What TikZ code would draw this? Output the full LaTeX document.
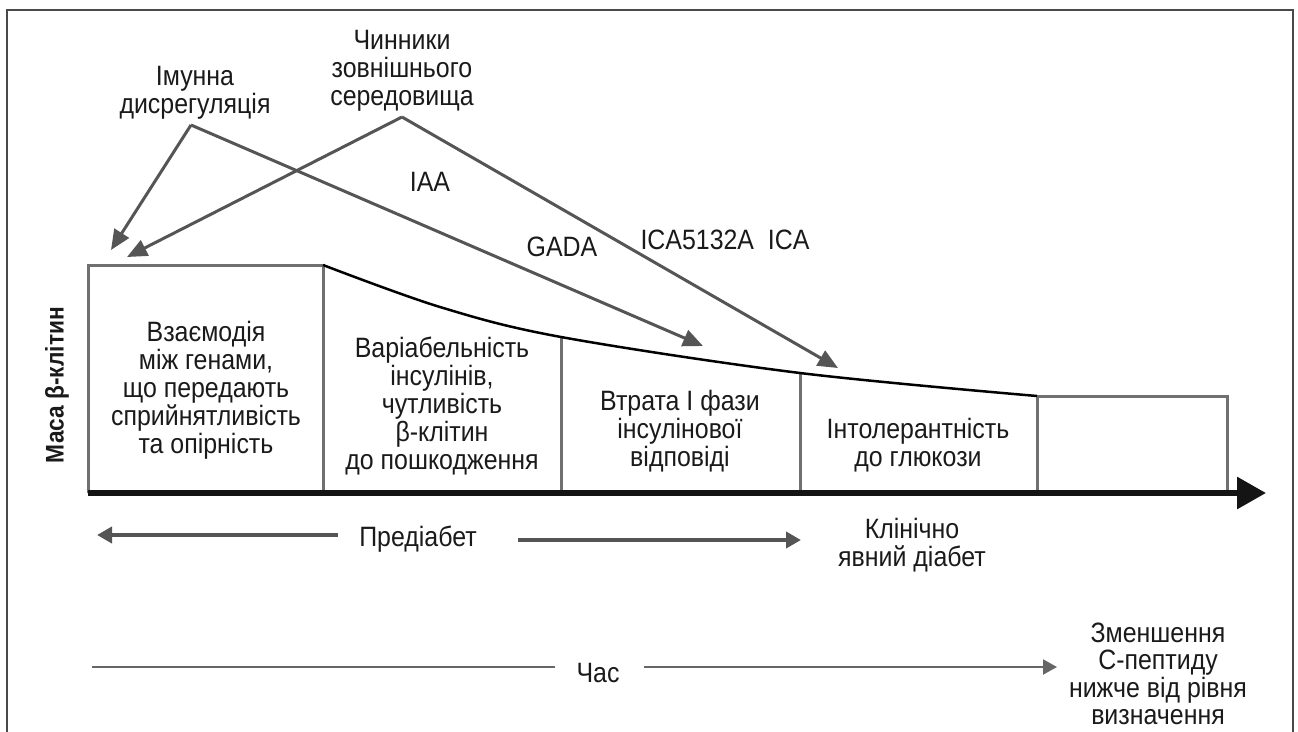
\documentclass[tikz,border=0pt]{standalone}
\usepackage{fontspec}
\setmainfont[FakeStretch=0.89]{Liberation Sans}
\usetikzlibrary{arrows.meta}
\definecolor{boxgray}{HTML}{707070}
\definecolor{arrgray}{HTML}{555555}
\definecolor{txt}{HTML}{1A1A1A}
\definecolor{framegray}{HTML}{4A4A4A}
\begin{document}
\begin{tikzpicture}[x=1pt,y=-1pt,
  lbl/.style={inner sep=0pt, align=center, text=txt, font=\fontsize{28}{28}\selectfont},
  ylbl/.style={inner sep=0pt, text=txt, font=\fontsize{25.5}{27}\selectfont\bfseries, rotate=90},
  boxline/.style={draw=boxgray, line width=3pt},
  infl/.style={draw=arrgray, line width=3pt, -{Triangle[length=20pt,width=17pt]}},
  pbar/.style={draw=arrgray, line width=4pt, -{Triangle[length=15pt,width=16pt]}},
  tbar/.style={draw=arrgray!90, line width=2pt, -{Triangle[length=14pt,width=15pt]}},
  curveline/.style={draw=black, line width=2.5pt},
  axisline/.style={draw=black!92, line width=6pt, -{Triangle[length=29pt,width=31pt]}},
  framel/.style={draw=framegray, line width=2pt}
]
\useasboundingbox (0,0) rectangle (1298,731);
% frame
\draw[framel] (7,745) -- (7,10) -- (1293,10) -- (1293,745);

% top labels
\node[lbl] (chin) at (402,71) {Чинники\\зовнішнього\\середовища};
\node[lbl] (imun) at (195,93) {Імунна\\дисрегуляція};
\coordinate (chA) at (402,117);
\coordinate (imA) at (191,125);

% boxes
\coordinate (c0) at (323,265);
\coordinate (c1) at (561,337);
\coordinate (c2) at (800,373);
\coordinate (c3) at (1037,396);
\draw[boxline] (88,493) -- (88,265) -- (c0) -- (323,493);
\draw[boxline] (c1) -- (561,493);
\draw[boxline] (c2) -- (800,493);
\draw[boxline] (1037,493) -- (c3) -- (1227,396) -- (1227,493);
\draw[curveline] plot[smooth, tension=0.55] coordinates {(323,265) (440,307) (561,337) (800,373) (1037,396)};

% axis
\coordinate (ax0) at (88,493);
\coordinate (ax1) at (1266,493);
\draw[axisline] (ax0) -- (ax1);

% influence arrows
\coordinate (t1) at (111,250);
\coordinate (t2) at (127,257);
\coordinate (t3) at (703,346);
\coordinate (t4) at (838,368);
\draw[infl] (imA) -- (t1);
\draw[infl] (imA) -- (t3);
\draw[infl] (chA) -- (t2);
\draw[infl] (chA) -- (t4);

% antibody labels
\node[lbl] (iaa) at (430,182) {IAA};
\node[lbl] (gada) at (562,247) {GADA};
\node[lbl] (ica) at (725,240) {ICA5132A\ \ ICA};

% box texts
\node[lbl] (b1) at (206,390) {Взаємодія\\між генами,\\що передають\\сприйнятливість\\та опірність};
\node[lbl] (b2) at (442,406) {Варіабельність\\інсулінів,\\чутливість\\β-клітин\\до пошкодження};
\node[lbl] (b3) at (680,431) {Втрата І фази\\інсулінової\\відповіді};
\node[lbl] (b4) at (918,445) {Інтолерантність\\до глюкози};

% y label
\node[ylbl] (ylab) at (57,385) {Маса β-клітин};

% prediabetes
\node[lbl] (pred) at (418,539) {Предіабет};
\coordinate (pl) at (97,535);
\coordinate (pr) at (801,540);
\draw[pbar] ([xshift=-21pt,yshift=4pt]pred.west) -- (pl);
\draw[pbar] ([xshift=41pt,yshift=-1pt]pred.east) -- (pr);
\node[lbl] (clin) at (912,545) {Клінічно\\явний діабет};

% time
\node[lbl] (time) at (598,673) {Час};
\coordinate (tl) at (92,667);
\coordinate (tr) at (1057,667);
\draw[draw=arrgray!90, line width=2pt] ([xshift=-21pt,yshift=6pt]time.west) -- (tl);
\draw[tbar] ([xshift=24pt,yshift=6pt]time.east) -- (tr);
\node[lbl, font=\fontsize{28}{27.5}\selectfont] (cpep) at (1158,674) {Зменшення\\С-пептиду\\нижче від рівня\\визначення};
\end{tikzpicture}
\end{document}
